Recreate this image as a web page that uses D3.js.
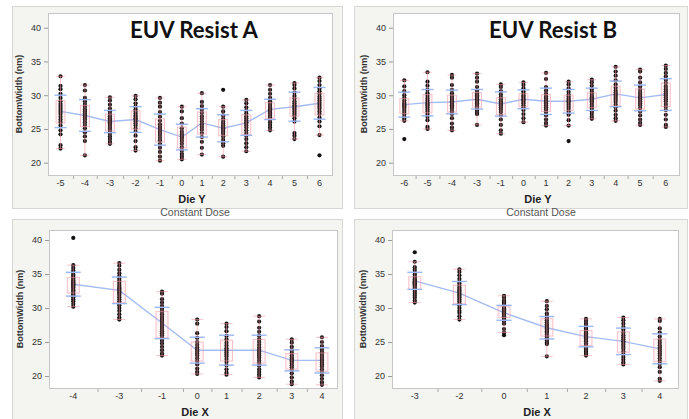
<!DOCTYPE html>
<html>
<head>
<meta charset="utf-8">
<script src="https://cdn.jsdelivr.net/npm/d3@7"></script>
<style>
  body { margin: 0; background: #fff; }
  svg { display: block; font-family: "Liberation Sans", Arial, sans-serif; }
</style>
</head>
<body>
<svg id="canvas"></svg>
<script>
// ---- data ----
const dieA = ["-5", "-4", "-3", "-2", "-1", "0", "1", "2", "3", "4", "5", "6"];
const meanA = [27.6, 27.0, 26.1, 26.4, 24.9, 23.8, 25.9, 25.1, 25.9, 27.9, 28.3, 28.8];
const sdA = [2.4, 2.35, 1.65, 1.9, 2.3, 1.9, 2.1, 2.0, 1.85, 1.5, 2.15, 2.35];
const pointsA = [
    [32.8, 31.4, 30.9, 30.2, 29.6, 29.1, 28.7, 28.4, 28.1, 27.8, 27.5, 27.2, 26.8, 26.4, 26.0, 25.5, 24.8, 24.2, 22.6, 22.1],
    [31.5, 30.7, 29.6, 29.1, 28.7, 28.3, 27.9, 27.6, 27.3, 27.0, 26.7, 26.4, 26.0, 25.6, 25.1, 24.5, 23.9, 23.2, 21.1],
    [29.7, 29.2, 28.6, 28.0, 27.6, 27.2, 26.9, 26.6, 26.4, 26.2, 26.0, 25.8, 25.6, 25.3, 25.0, 24.7, 24.3, 23.9, 23.5, 23.1, 22.8],
    [29.9, 29.4, 28.8, 28.3, 27.9, 27.6, 27.3, 27.0, 26.8, 26.6, 26.4, 26.1, 25.8, 25.5, 25.1, 24.6, 24.0, 23.2, 22.3, 21.8],
    [29.6, 28.9, 28.3, 27.5, 26.8, 26.2, 25.7, 25.3, 25.0, 24.7, 24.4, 24.1, 23.7, 23.3, 22.8, 22.2, 21.6, 20.9, 20.3],
    [28.3, 27.6, 26.6, 25.8, 25.1, 24.6, 24.2, 23.9, 23.6, 23.2, 22.8, 22.3, 21.8, 21.3, 20.9, 20.5],
    [30.3, 29.0, 28.4, 27.9, 27.4, 26.9, 26.5, 26.1, 25.7, 25.3, 24.9, 24.4, 23.8, 23.1, 22.2, 21.2],
    [30.8, 28.3, 27.6, 27.0, 26.5, 26.1, 25.8, 25.5, 25.3, 25.1, 24.9, 24.6, 24.3, 23.9, 23.4, 22.9, 22.5, 20.9],
    [29.3, 28.8, 28.2, 27.7, 27.3, 26.9, 26.6, 26.3, 26.0, 25.8, 25.5, 25.2, 24.8, 24.4, 24.0, 23.5, 22.9, 22.3, 21.7],
    [31.5, 30.8, 30.2, 29.6, 29.1, 28.7, 28.4, 28.1, 27.9, 27.7, 27.5, 27.3, 27.0, 26.7, 26.4, 26.0, 25.6, 25.2, 24.8],
    [31.8, 31.5, 31.0, 30.4, 29.9, 29.5, 29.1, 28.8, 28.5, 28.3, 28.1, 27.9, 27.6, 27.3, 27.0, 26.6, 26.1, 24.4, 24.0, 23.5],
    [32.6, 32.1, 31.5, 31.0, 30.6, 30.2, 29.8, 29.5, 29.2, 28.9, 28.6, 28.3, 28.0, 27.6, 27.2, 26.7, 26.1, 25.4, 24.1, 21.1]
];

const dieB = ["-6", "-5", "-4", "-3", "-1", "0", "1", "2", "3", "4", "5", "6"];
const meanB = [28.6, 28.9, 29.0, 29.4, 28.7, 29.4, 29.1, 29.1, 29.4, 30.2, 29.6, 30.1];
const sdB = [1.85, 1.95, 1.75, 1.45, 1.8, 1.4, 1.95, 1.75, 1.65, 1.9, 1.9, 2.35];
const pointsB = [
    [32.2, 31.3, 30.6, 30.0, 29.6, 29.2, 28.9, 28.7, 28.5, 28.3, 28.1, 27.8, 27.5, 27.2, 26.8, 26.5, 26.2, 23.5],
    [33.4, 32.0, 31.4, 30.8, 30.3, 29.9, 29.5, 29.2, 28.9, 28.7, 28.5, 28.2, 27.9, 27.6, 27.2, 26.8, 26.3, 25.3, 25.0],
    [33.0, 32.6, 31.5, 30.8, 30.3, 29.9, 29.6, 29.3, 29.1, 28.9, 28.7, 28.5, 28.3, 28.0, 27.6, 27.2, 26.6, 25.8, 25.2, 24.8],
    [33.2, 32.6, 32.0, 31.2, 30.7, 30.3, 30.0, 29.8, 29.6, 29.4, 29.2, 29.0, 28.8, 28.6, 28.3, 28.0, 27.7, 27.4, 27.2, 25.6],
    [31.6, 31.2, 30.6, 30.1, 29.7, 29.4, 29.1, 28.9, 28.7, 28.5, 28.2, 27.9, 27.5, 27.0, 26.4, 25.6, 24.8, 24.3],
    [31.9, 31.5, 31.0, 30.6, 30.3, 30.0, 29.8, 29.6, 29.4, 29.2, 29.0, 28.8, 28.5, 28.2, 27.8, 27.2, 26.6, 26.0],
    [33.3, 32.4, 31.2, 30.7, 30.2, 29.8, 29.5, 29.2, 29.0, 28.8, 28.5, 28.2, 27.9, 27.5, 27.0, 26.4, 25.9, 25.5],
    [32.0, 31.6, 31.0, 30.5, 30.1, 29.8, 29.5, 29.3, 29.1, 28.9, 28.6, 28.3, 28.0, 27.6, 27.1, 26.3, 25.5, 23.2],
    [32.3, 31.9, 31.4, 30.9, 30.5, 30.2, 29.9, 29.7, 29.5, 29.3, 29.1, 28.9, 28.6, 28.3, 28.0, 27.6, 27.2, 26.8, 26.5],
    [34.2, 33.5, 32.9, 32.2, 31.6, 31.1, 30.7, 30.4, 30.1, 29.9, 29.6, 29.3, 29.0, 28.6, 28.2, 27.7, 27.1, 26.6, 26.2],
    [33.8, 33.5, 32.6, 31.9, 31.3, 30.8, 30.4, 30.1, 29.8, 29.6, 29.4, 29.1, 28.8, 28.5, 28.1, 27.6, 27.0, 26.4, 25.9, 25.6],
    [34.4, 33.9, 33.3, 32.8, 32.3, 31.8, 31.3, 30.9, 30.6, 30.3, 30.0, 29.7, 29.4, 29.1, 28.7, 28.3, 27.8, 27.1, 26.4, 25.6, 25.3]
];

const dieC = ["-4", "-3", "-1", "0", "1", "2", "3", "4"];
const meanC = [33.5, 32.6, 27.8, 23.8, 23.8, 23.8, 22.3, 22.3];
const sdC = [1.75, 1.95, 2.3, 1.9, 2.2, 2.2, 1.55, 1.85];
const pointsC = [
    [40.3, 36.3, 35.9, 35.5, 35.2, 34.9, 34.7, 34.5, 34.3, 34.1, 33.9, 33.8, 33.6, 33.5, 33.4, 33.3, 33.1, 33.0, 32.8, 32.6, 32.4, 32.2, 32.0, 31.8, 31.6, 31.3, 31.0, 30.6, 30.2],
    [36.6, 36.2, 35.6, 35.1, 34.7, 34.3, 34.0, 33.7, 33.4, 33.1, 32.9, 32.7, 32.5, 32.3, 32.1, 31.9, 31.6, 31.3, 31.0, 30.7, 30.4, 30.0, 29.6, 29.1, 28.6, 28.3],
    [32.4, 32.1, 31.3, 30.8, 30.3, 29.9, 29.5, 29.1, 28.7, 28.4, 28.1, 27.8, 27.5, 27.2, 26.9, 26.6, 26.3, 26.0, 25.6, 25.2, 24.8, 24.3, 23.8, 23.3, 23.0],
    [28.3, 27.7, 26.3, 25.6, 25.0, 24.6, 24.2, 23.9, 23.6, 23.3, 23.0, 22.6, 22.2, 21.7, 21.1, 20.6, 20.3],
    [27.7, 27.2, 26.6, 25.9, 25.4, 24.9, 24.5, 24.1, 23.8, 23.5, 23.2, 22.9, 22.5, 22.1, 21.6, 21.0, 20.5, 20.2],
    [28.8, 28.0, 27.1, 26.5, 25.9, 25.4, 25.0, 24.6, 24.2, 23.9, 23.6, 23.3, 23.0, 22.7, 22.3, 21.9, 21.5, 21.0, 20.6, 20.2, 19.8],
    [25.4, 24.9, 24.3, 23.8, 23.4, 23.0, 22.7, 22.5, 22.3, 22.1, 21.9, 21.6, 21.3, 20.9, 20.4, 19.8, 19.2, 18.8],
    [25.7, 25.0, 24.4, 23.9, 23.5, 23.1, 22.8, 22.5, 22.3, 22.0, 21.7, 21.4, 21.0, 20.6, 20.1, 19.6, 19.1, 18.7]
];

const dieD = ["-3", "-2", "0", "1", "2", "3", "4"];
const meanD = [34.0, 32.2, 29.3, 27.1, 25.8, 25.1, 24.0];
const sdD = [1.25, 1.7, 1.1, 1.65, 1.5, 1.95, 2.2];
const pointsD = [
    [38.2, 36.8, 36.0, 35.6, 35.2, 34.9, 34.6, 34.4, 34.2, 34.0, 33.9, 33.8, 33.7, 33.6, 33.5, 33.3, 33.1, 32.9, 32.7, 32.4, 32.1, 31.8, 31.5, 31.1, 30.8],
    [35.7, 35.3, 34.8, 34.3, 33.9, 33.6, 33.3, 33.0, 32.8, 32.6, 32.4, 32.2, 32.0, 31.8, 31.6, 31.3, 31.0, 30.7, 30.4, 30.0, 29.6, 29.3, 28.8, 28.3],
    [31.8, 31.5, 31.1, 30.8, 30.6, 30.4, 30.2, 30.0, 29.9, 29.8, 29.7, 29.6, 29.5, 29.4, 29.3, 29.2, 29.0, 28.8, 28.6, 28.4, 28.1, 27.7, 26.9, 26.4, 26.0],
    [31.0, 30.3, 29.8, 29.2, 28.8, 28.5, 28.2, 27.9, 27.6, 27.4, 27.2, 27.0, 26.8, 26.6, 26.4, 26.1, 25.8, 25.5, 25.2, 24.9, 24.7, 22.9],
    [28.4, 28.1, 27.7, 27.3, 27.0, 26.7, 26.5, 26.3, 26.1, 25.9, 25.7, 25.5, 25.3, 25.1, 24.8, 24.5, 24.2, 23.9, 23.6, 23.3, 23.0],
    [28.6, 28.2, 27.7, 27.2, 26.8, 26.4, 26.0, 25.7, 25.4, 25.1, 24.9, 24.6, 24.3, 24.0, 23.6, 23.2, 22.8, 22.4, 22.0, 21.7],
    [28.4, 28.1, 27.0, 26.4, 25.8, 25.3, 24.9, 24.5, 24.2, 23.9, 23.6, 23.3, 23.0, 22.6, 22.2, 21.8, 21.3, 20.6, 19.6, 19.3]
];

const yTicks = [20, 25, 30, 35, 40];
const yLabel = "BottomWidth (nm)";
const subLabel = "Constant Dose";

// ---- styles ----
var colorFrame = "#f4f4f0";
var colorFrameEdge = "#d6d6d2";
var colorPlotEdge = "#c6c6c6";
var colorDot = "#141010";
var colorBox = "#f39aa6";
var colorMean = "#a3bcf4";
var colorSd = "#9ab6f3";
var colorText = "#333333";

const canvasWidth = 689;
const canvasHeight = 419;
const svgCanvas = d3.select('svg#canvas')
    .attr('width', canvasWidth)
    .attr('height', canvasHeight);

const panels = [
    { die: dieA, pts: pointsA, mean: meanA, sd: sdA, title: "EUV Resist A", axis: "Die Y", sub: true,
      frame: [12, 6, 330, 202], plot: [48, 13, 332, 175], yDomain: [18.18, 42.18], titleX: 194, boxW: 9, sdW: 12 },
    { die: dieB, pts: pointsB, mean: meanB, sd: sdB, title: "EUV Resist B", axis: "Die Y", sub: true,
      frame: [354, 6, 333, 202], plot: [393, 13, 679, 175], yDomain: [18.18, 42.18], titleX: 553, boxW: 9, sdW: 12 },
    { die: dieC, pts: pointsC, mean: meanC, sd: sdC, title: null, axis: "Die X", sub: false,
      frame: [12, 219, 330, 205], plot: [49, 230, 337, 388], yDomain: [18.24, 41.47], boxW: 12, sdW: 15 },
    { die: dieD, pts: pointsD, mean: meanD, sd: sdD, title: null, axis: "Die X", sub: false,
      frame: [354, 219, 333, 205], plot: [392, 230, 678, 388], yDomain: [18.24, 41.47], boxW: 12, sdW: 15 }
];

panels.forEach(drawPanel);

function boxStats(vals) {
    let s = vals.slice().sort(d3.ascending);
    let q1 = d3.quantile(s, 0.25), q3 = d3.quantile(s, 0.75);
    let iqr = q3 - q1;
    let lo = d3.min(s.filter(v => v >= q1 - 1.5 * iqr));
    let hi = d3.max(s.filter(v => v <= q3 + 1.5 * iqr));
    return { q1: q1, q3: q3, lo: lo, hi: hi };
}

function drawPanel(p) {
    const g = svgCanvas.append('g');
    const [pl, pt, pr, pb] = p.plot;

    g.append('rect')
        .attr('x', p.frame[0] + 0.5).attr('y', p.frame[1] + 0.5)
        .attr('width', p.frame[2]).attr('height', p.frame[3])
        .attr('fill', colorFrame).attr('stroke', colorFrameEdge);
    g.append('rect')
        .attr('x', pl + 0.5).attr('y', pt + 0.5)
        .attr('width', pr - pl).attr('height', pb - pt)
        .attr('fill', '#fff').attr('stroke', colorPlotEdge);

    // cell widths follow the number of rows in each die, as JMP lays them out
    const counts = p.pts.map(a => a.length);
    const cum = d3.cumsum([0].concat(counts));
    const x = d3.scaleLinear().domain([0, cum[cum.length - 1]]).range([pl, pr]);
    const y = d3.scaleLinear().domain(p.yDomain).range([pb, pt]);
    const cx = i => x(cum[i] + counts[i] / 2);

    // y axis
    const yAxis = g.append('g')
        .attr('transform', `translate(${pl},0)`)
        .call(d3.axisLeft(y).tickValues(yTicks).tickSize(4).tickPadding(3));
    yAxis.select('.domain').remove();
    yAxis.selectAll('line').attr('stroke', '#999');
    yAxis.selectAll('text').attr('fill', colorText).style('font-size', '9px');

    // x axis: boundary ticks + die labels
    const xAxis = g.append('g')
        .attr('transform', `translate(0,${pb + 1})`)
        .call(d3.axisBottom(x).tickValues(cum.slice(1, -1)).tickSize(3).tickFormat(''));
    xAxis.select('.domain').remove();
    xAxis.selectAll('line').attr('stroke', '#aaa');

    g.selectAll('text.die').data(p.die).enter().append('text')
        .attr('class', 'die')
        .attr('x', (d, i) => cx(i))
        .attr('y', pb + 11)
        .attr('text-anchor', 'middle')
        .attr('fill', colorText)
        .style('font-size', '9px')
        .text(d => d);

    g.append('text')
        .attr('x', (pl + pr) / 2 + 2)
        .attr('y', pb + 28)
        .attr('text-anchor', 'middle')
        .attr('fill', '#222')
        .style('font-size', '11px').style('font-weight', 'bold')
        .text(p.axis);

    if (p.sub) {
        g.append('text')
            .attr('x', (pl + pr) / 2 + 5)
            .attr('y', pb + 40.5)
            .attr('text-anchor', 'middle')
            .attr('fill', '#555')
            .style('font-size', '10.5px')
            .text(subLabel);
    }

    g.append('text')
        .attr('transform', `translate(${pl - 26},${(pt + pb) / 2}) rotate(-90)`)
        .attr('text-anchor', 'middle')
        .attr('fill', '#333')
        .style('font-size', '9px').style('font-weight', 'bold')
        .text(yLabel);

    if (p.title) {
        g.append('text')
            .attr('x', p.titleX).attr('y', 38)
            .attr('text-anchor', 'middle')
            .attr('fill', '#111')
            .attr('textLength', 128).attr('lengthAdjust', 'spacingAndGlyphs')
            .style('font-family', 'Lato, "Open Sans", sans-serif')
            .style('font-size', '23px').style('font-weight', 'bold')
            .text(p.title);
    }

    // mean line
    const line = d3.line().x((d, i) => cx(i)).y(d => y(d));
    g.append('path')
        .attr('d', line(p.mean))
        .attr('fill', 'none')
        .attr('stroke', colorMean)
        .attr('stroke-width', 1.4);

    // dots
    p.pts.forEach(function (vals, i) {
        g.selectAll(null).data(vals).enter().append('circle')
            .attr('cx', cx(i))
            .attr('cy', d => y(d))
            .attr('r', 2.1)
            .attr('fill', colorDot);
    });

    // box plots
    const stats = p.pts.map(boxStats);
    const bx = g.append('g').attr('stroke', colorBox).attr('fill', 'none')
        .attr('stroke-opacity', 0.6).attr('stroke-width', 1);
    stats.forEach(function (s, i) {
        let c = cx(i), hw = p.boxW / 2;
        bx.append('rect')
            .attr('x', c - hw).attr('y', y(s.q3))
            .attr('width', p.boxW).attr('height', y(s.q1) - y(s.q3))
            .attr('fill', colorBox).attr('fill-opacity', 0.1);
        bx.append('line')
            .attr('x1', c).attr('x2', c).attr('y1', y(s.hi)).attr('y2', y(s.lo));
        [s.hi, s.lo].forEach(function (v) {
            bx.append('line')
                .attr('x1', c - hw).attr('x2', c + hw)
                .attr('y1', y(v)).attr('y2', y(v));
        });
    });

    // std dev bars
    p.mean.forEach(function (m, i) {
        [m + p.sd[i], m - p.sd[i]].forEach(function (v) {
            g.append('line')
                .attr('x1', cx(i) - p.sdW / 2).attr('x2', cx(i) + p.sdW / 2)
                .attr('y1', y(v)).attr('y2', y(v))
                .attr('stroke', colorSd).attr('stroke-width', 1.4);
        });
    });
}
</script>
</body>
</html>
